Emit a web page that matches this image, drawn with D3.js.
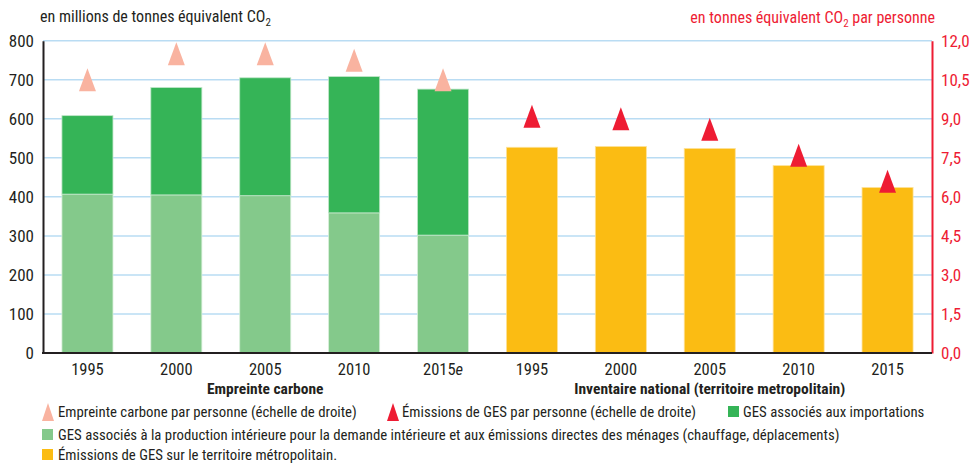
<!DOCTYPE html>
<html><head><meta charset="utf-8">
<script src="https://cdn.jsdelivr.net/npm/d3@7"></script>
<style>
html,body{margin:0;padding:0;background:#fff;}
svg{display:block;}
text{font-family:"Liberation Sans Narrow","Arial Narrow","Roboto Condensed",sans-serif;font-stretch:condensed;}
</style></head>
<body>
<svg id="chart" width="970" height="464"></svg>
<script>
// ---- data ----
const yearsEmpreinte = ["1995","2000","2005","2010","2015e"];
const yearsInventaire = ["1995","2000","2005","2010","2015"];
const productionInterieure = [407,405,403,359,302];   // light green, Mt CO2e
const importations = [201,275,302,349,374];           // dark green, Mt CO2e
const empreinteParPersonne = [10.5,11.5,11.5,11.25,10.5]; // t CO2e / person (right axis)
const emissionsTerritoire = [527,529,524,480,424];    // yellow, Mt CO2e
const emissionsParPersonne = [9.1,9.0,8.6,7.6,6.6];   // t CO2e / person (right axis)
const leftTicks = [0,100,200,300,400,500,600,700,800];
const rightTicks = [0,1.5,3,4.5,6,7.5,9,10.5,12];

const C = {
  dark:"#35b457", light:"#84c98b", yellow:"#fbbc13",
  pink:"#f9b3a0", red:"#ee1c33", grid:"#b9dcf3", axis:"#231f20", text:"#231f20"
};

const svg = d3.select("#chart");
const L = 43, R = 932, T = 40.7, B = 353;

const keys = yearsEmpreinte.map((y,i)=>"E"+i).concat(yearsInventaire.map((y,i)=>"I"+i));
const x = d3.scaleBand().domain(keys).range([L,R]).paddingInner(0.426).paddingOuter(0.213);
const y = d3.scaleLinear().domain([0,800]).range([B,T]);
const y2 = d3.scaleLinear().domain([0,12]).range([B,T]);

// gridlines
svg.append("g").selectAll("line").data(leftTicks.filter(d=>d>0)).join("line")
  .attr("x1",L).attr("x2",R).attr("y1",d=>y(d)).attr("y2",d=>y(d))
  .attr("stroke",C.grid).attr("stroke-width",1.5);

// left axis
const gl = svg.append("g").attr("transform",`translate(${L},0)`)
  .call(d3.axisLeft(y).tickValues(leftTicks).tickSize(0).tickPadding(9).tickFormat(d3.format("d")));
gl.select(".domain").attr("stroke",C.axis).attr("stroke-width",2);
gl.selectAll("text").attr("font-size",17).attr("fill",C.text).attr("font-family",null);

// right axis
const gr = svg.append("g").attr("transform",`translate(${R},0)`)
  .call(d3.axisRight(y2).tickValues(rightTicks).tickSize(0).tickPadding(9)
    .tickFormat(d=>d3.format(".1f")(d).replace(".",",")));
gr.select(".domain").attr("stroke",C.red).attr("stroke-width",2);
gr.selectAll("text").attr("font-size",17).attr("fill",C.red).attr("font-family",null);

// stacked bars: empreinte
const eg = svg.append("g");
eg.selectAll("rect.l").data(productionInterieure).join("rect").attr("class","l")
  .attr("x",(d,i)=>x("E"+i)).attr("width",x.bandwidth())
  .attr("y",d=>y(d)).attr("height",d=>y(0)-y(d))
  .attr("fill",C.light).attr("stroke","#d6eed9").attr("stroke-width",0.8);
eg.selectAll("rect.d").data(importations).join("rect").attr("class","d")
  .attr("x",(d,i)=>x("E"+i)).attr("width",x.bandwidth())
  .attr("y",(d,i)=>y(d+productionInterieure[i])).attr("height",(d,i)=>y(productionInterieure[i])-y(d+productionInterieure[i]))
  .attr("fill",C.dark).attr("stroke","#bfe6c8").attr("stroke-width",0.8);

// yellow bars
svg.append("g").selectAll("rect").data(emissionsTerritoire).join("rect")
  .attr("x",(d,i)=>x("I"+i)).attr("width",x.bandwidth())
  .attr("y",d=>y(d)).attr("height",d=>y(0)-y(d))
  .attr("fill",C.yellow).attr("stroke","#fde29a").attr("stroke-width",0.8);

// bottom axis line
svg.append("line").attr("x1",L-1).attr("x2",R).attr("y1",B).attr("y2",B)
  .attr("stroke",C.axis).attr("stroke-width",2);

// triangles
const tri = "M0,-11.5L8.5,11.5L-8.5,11.5Z";
svg.append("g").selectAll("path").data(empreinteParPersonne).join("path")
  .attr("d",tri).attr("fill",C.pink)
  .attr("transform",(d,i)=>`translate(${x("E"+i)+x.bandwidth()/2},${y2(d)})`);
svg.append("g").selectAll("path").data(emissionsParPersonne).join("path")
  .attr("d",tri).attr("fill",C.red)
  .attr("transform",(d,i)=>`translate(${x("I"+i)+x.bandwidth()/2},${y2(d)})`);

// x labels
const xl = svg.append("g");
yearsEmpreinte.forEach((lab,i)=>{
  const t = xl.append("text").attr("x",x("E"+i)+x.bandwidth()/2).attr("y",375)
    .attr("text-anchor","middle").attr("font-size",16.5).attr("fill",C.text);
  if(lab.endsWith("e")){ t.append("tspan").text(lab.slice(0,-1)); t.append("tspan").attr("font-style","italic").text("e"); }
  else t.text(lab);
});
yearsInventaire.forEach((lab,i)=>{
  xl.append("text").attr("x",x("I"+i)+x.bandwidth()/2).attr("y",375)
    .attr("text-anchor","middle").attr("font-size",16.5).attr("fill",C.text).text(lab);
});
xl.append("text").attr("x",(x("E0")+x("E4")+x.bandwidth())/2).attr("y",394)
  .attr("text-anchor","middle").attr("font-size",15.5).attr("font-weight","bold").attr("fill",C.text).text("Empreinte carbone");
xl.append("text").attr("x",(x("I0")+x("I4")+x.bandwidth())/2).attr("y",394)
  .attr("text-anchor","middle").attr("font-size",15.5).attr("font-weight","bold").attr("fill",C.text).text("Inventaire national (territoire metropolitain)");

// unit labels
function co2Label(xp,yp,pre,post,color,anchor){
  const t = svg.append("text").attr("x",xp).attr("y",yp).attr("font-size",16).attr("fill",color).attr("text-anchor",anchor);
  t.append("tspan").text(pre+"CO");
  t.append("tspan").attr("font-size",11).attr("dy",4).text("2");
  t.append("tspan").attr("dy",-4).text(post);
}
co2Label(40,22,"en millions de tonnes équivalent ","",C.text,"start");
co2Label(935,23,"en tonnes équivalent "," par personne",C.red,"end");

// legend
const lg = svg.append("g").attr("font-size",14.8).attr("fill",C.text);
function legTri(xp,yp,col){ lg.append("path").attr("d","M0,-9L6,9L-6,9Z").attr("fill",col).attr("transform",`translate(${xp},${yp})`); }
function legSq(xp,yp,col){ lg.append("rect").attr("x",xp).attr("y",yp-6).attr("width",11).attr("height",11).attr("fill",col); }
function legText(xp,yp,s){ lg.append("text").attr("x",xp).attr("y",yp+5).text(s); }
legTri(48,412,C.pink); legText(58,412,"Empreinte carbone par personne (échelle de droite)");
legTri(393,412,C.red); legText(402,412,"Émissions de GES par personne (échelle de droite)");
legSq(728,412,C.dark); legText(743,412,"GES associés aux importations");
legSq(42,435,C.light); legText(58,435,"GES associés à la production intérieure pour la demande intérieure et aux émissions directes des ménages (chauffage, déplacements)");
legSq(42,455,C.yellow); legText(58,455,"Émissions de GES sur le territoire métropolitain.");
</script>
</body></html>
